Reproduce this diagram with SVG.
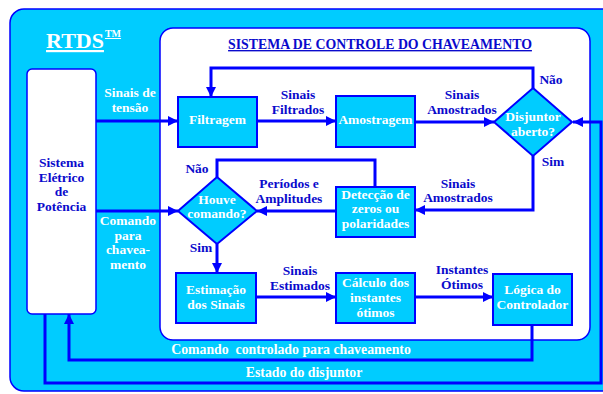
<svg xmlns="http://www.w3.org/2000/svg" width="603" height="394" viewBox="0 0 603 394">
<defs>
<style>
text{font-family:"Liberation Serif","Times New Roman",serif;font-weight:bold;font-size:13.5px;text-anchor:middle}
.w{fill:#FFFFFF}
.b{fill:#0A0ACC}
.box{fill:#00CCFF;stroke:#0000FF;stroke-width:2}
.ln{fill:none;stroke:#0000FF;stroke-width:3}
</style>
<marker id="ah" markerUnits="userSpaceOnUse" markerWidth="10" markerHeight="10" refX="10" refY="5" orient="auto">
<path d="M0,0 L10,5 L0,10 z" fill="#0000FF"/>
</marker>
</defs>
<rect x="0" y="0" width="603" height="394" fill="#FFFFFF"/>
<g id="rtds">
<rect x="10" y="9" width="640" height="382" rx="14" fill="#00CCFF" stroke="#0000FF" stroke-width="1.5"/>
<text x="75" y="48" class="w" style="font-size:22px;text-decoration:underline">RTDS</text>
<text x="113" y="37" class="w" style="font-size:10px;text-decoration:underline">TM</text>
</g>
<g id="sistema-controle">
<rect x="160" y="28" width="430" height="312" rx="13" fill="#FFFFFF" stroke="#0000FF" stroke-width="1.5"/>
<text x="380" y="49" class="b" style="font-size:13.8px;text-decoration:underline">SISTEMA DE CONTROLE DO CHAVEAMENTO</text>
</g>
<g id="sistema-eletrico">
<rect x="27" y="69" width="69" height="245" rx="5" fill="#FFFFFF" stroke="#0000FF" stroke-width="1.5"/>
<text x="61.5" y="167" class="b">Sistema</text>
<text x="61.5" y="182" class="b">Elétrico</text>
<text x="61.5" y="196" class="b">de</text>
<text x="61.5" y="211" class="b">Potência</text>
</g>
<g id="connectors">
<path class="ln" d="M96,121 H178" marker-end="url(#ah)"/>
<path class="ln" d="M257,121 H336" marker-end="url(#ah)"/>
<path class="ln" d="M415,122 H494" marker-end="url(#ah)"/>
<path class="ln" d="M533,88 V68 H211 V97" marker-end="url(#ah)"/>
<path class="ln" d="M533,156 V210 H415" marker-end="url(#ah)"/>
<path class="ln" d="M336,211 H257" marker-end="url(#ah)"/>
<path class="ln" d="M375,187 V160 H217 V177"/>
<path class="ln" d="M96,211 H178" marker-end="url(#ah)"/>
<path class="ln" d="M217,244 V273" marker-end="url(#ah)"/>
<path class="ln" d="M256,297 H336" marker-end="url(#ah)"/>
<path class="ln" d="M415,297 H493" marker-end="url(#ah)"/>
<path class="ln" d="M532,325 V360 H69 V314" marker-end="url(#ah)"/>
<path class="ln" d="M45,314 V383 H601 V122 H573" marker-end="url(#ah)"/>
<text x="130" y="97" class="w">Sinais de</text>
<text x="130" y="112" class="w">tensão</text>
<text x="128" y="225" class="w">Comando</text>
<text x="128" y="240" class="w">para</text>
<text x="128" y="254" class="w">chavea-</text>
<text x="128" y="269" class="w">mento</text>
<text x="298" y="99" class="b">Sinais</text>
<text x="298" y="114" class="b">Filtrados</text>
<text x="462" y="99" class="b">Sinais</text>
<text x="462" y="114" class="b">Amostrados</text>
<text x="551" y="84" class="b">Não</text>
<text x="553" y="166" class="b">Sim</text>
<text x="458" y="188" class="b">Sinais</text>
<text x="458" y="202" class="b">Amostrados</text>
<text x="289" y="188" class="b">Períodos e</text>
<text x="289" y="203" class="b">Amplitudes</text>
<text x="197" y="173" class="b">Não</text>
<text x="201" y="252" class="b">Sim</text>
<text x="300" y="275" class="b">Sinais</text>
<text x="300" y="290" class="b">Estimados</text>
<text x="462" y="274" class="b">Instantes</text>
<text x="462" y="289" class="b">Ótimos</text>
<text x="291" y="354" class="w" style="white-space:pre;font-size:13.8px">Comando  controlado para chaveamento</text>
<text x="304" y="377" class="w" style="font-size:13.8px">Estado do disjuntor</text>
</g>
<g id="filtragem">
<rect x="178" y="97" width="79" height="50" class="box"/>
<text x="217.5" y="124" class="w">Filtragem</text>
</g>
<g id="amostragem">
<rect x="336" y="96" width="79" height="51" class="box"/>
<text x="375.5" y="124" class="w">Amostragem</text>
</g>
<g id="disjuntor-aberto">
<polygon points="533,88 572,122 533,156 494,122" class="box"/>
<text x="533" y="121" class="w">Disjuntor</text>
<text x="533" y="136" class="w">aberto?</text>
</g>
<g id="deteccao">
<rect x="336" y="187" width="79" height="50" class="box"/>
<text x="375.5" y="199" class="w">Detecção de</text>
<text x="375.5" y="213" class="w">zeros ou</text>
<text x="375.5" y="228" class="w">polaridades</text>
</g>
<g id="houve-comando">
<polygon points="217,177 257,211 217,244 178,211" class="box"/>
<text x="217" y="204" class="w">Houve</text>
<text x="217" y="218" class="w">comando?</text>
</g>
<g id="estimacao">
<rect x="176" y="273" width="80" height="50" class="box"/>
<text x="216" y="294" class="w">Estimação</text>
<text x="216" y="309" class="w">dos Sinais</text>
</g>
<g id="calculo">
<rect x="336" y="273" width="79" height="50" class="box"/>
<text x="375.5" y="287" class="w">Cálculo dos</text>
<text x="375.5" y="302" class="w">instantes</text>
<text x="375.5" y="317" class="w">ótimos</text>
</g>
<g id="logica">
<rect x="493" y="274" width="79" height="51" class="box"/>
<text x="532.5" y="294" class="w">Lógica do</text>
<text x="532.5" y="309" class="w">Controlador</text>
</g>
</svg>
